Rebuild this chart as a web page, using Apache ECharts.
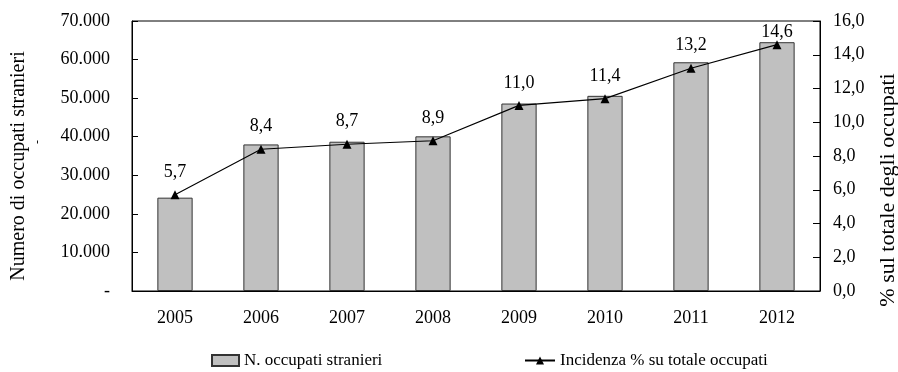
<!DOCTYPE html>
<html><head><meta charset="utf-8">
<script src="https://cdn.jsdelivr.net/npm/echarts@6/dist/echarts.min.js"></script>
<style>html,body{margin:0;padding:0;background:#fff}#c{width:898px;height:372px}</style>
</head><body><div id="c"></div>
<script>
const years = ['2005','2006','2007','2008','2009','2010','2011','2012'];
const occupati = [24200, 38000, 38700, 40100, 48600, 50600, 59300, 64500];
const incidenza = [5.7, 8.4, 8.7, 8.9, 11.0, 11.4, 13.2, 14.6];
const leftTicks = {min: 0, max: 70000, interval: 10000};
const rightTicks = {min: 0, max: 16, interval: 2};
const barName = 'N. occupati stranieri';
const lineName = 'Incidenza % su totale occupati';
const leftTitle = 'Numero di occupati stranieri';
const rightTitle = '% sul totale degli occupati';

const FONT = '"Liberation Serif", "Times New Roman", serif';
const FS = 18;
const chart = echarts.init(document.getElementById('c'), null, {renderer: 'canvas'});
const fmtThousands = v => v === 0 ? '-' : String(v).replace(/\B(?=(\d{3})+(?!\d))/g, '.');
const fmtDec = v => v.toFixed(1).replace('.', ',');

const lineData = incidenza.map((v, i) => i === incidenza.length - 1
  ? {value: v, label: {distance: -1}} : v);

chart.setOption({
  animation: false,
  backgroundColor: '#fff',
  textStyle: {fontFamily: FONT, color: '#000'},
  grid: {left: 132, right: 78, top: 21, bottom: 81, show: true, borderColor: '#000', borderWidth: 1},
  legend: [
    {data: [{name: barName, icon: 'rect'}], left: 206, top: 347, itemWidth: 27, itemHeight: 11, itemGap: 4,
     textStyle: {fontFamily: FONT, fontSize: 17, color: '#000'}},
    {data: [lineName], left: 519, top: 347, itemWidth: 30, itemHeight: 10, itemGap: 4,
     textStyle: {fontFamily: FONT, fontSize: 17, color: '#000'}}
  ],
  xAxis: {
    type: 'category', data: years,
    axisLine: {lineStyle: {color: '#000'}},
    axisTick: {show: false},
    axisLabel: {fontFamily: FONT, fontSize: FS, color: '#000', margin: 18}
  },
  yAxis: [
    {type: 'value', min: leftTicks.min, max: leftTicks.max, interval: leftTicks.interval,
     axisLine: {show: true, lineStyle: {color: '#000'}},
     axisTick: {show: true, inside: true, length: 6, lineStyle: {color: '#000'}},
     splitLine: {show: false},
     axisLabel: {fontFamily: FONT, fontSize: FS, color: '#000', margin: 22, formatter: fmtThousands}},
    {type: 'value', min: rightTicks.min, max: rightTicks.max, interval: rightTicks.interval,
     axisLine: {show: true, lineStyle: {color: '#000'}},
     axisTick: {show: true, inside: true, length: 7, lineStyle: {color: '#000'}},
     splitLine: {show: false},
     axisLabel: {fontFamily: FONT, fontSize: FS, color: '#000', margin: 13, formatter: fmtDec}}
  ],
  series: [
    {name: barName, type: 'bar', data: occupati, yAxisIndex: 0, barWidth: '41%',
     itemStyle: {color: '#C0C0C0', borderColor: '#333', borderWidth: 1}},
    {name: lineName, type: 'line', data: lineData, yAxisIndex: 1,
     symbol: 'triangle', symbolSize: 9,
     lineStyle: {color: '#000', width: 1.1},
     itemStyle: {color: '#000'},
     label: {show: true, position: 'top', distance: 9, fontFamily: FONT, fontSize: FS, color: '#000', formatter: p => fmtDec(p.value)}}
  ],
  graphic: [
    {type: 'text', x: 19, y: 166, rotation: Math.PI/2,
     style: {text: leftTitle, font: '20px ' + FONT, fill: '#000', align: 'center', verticalAlign: 'middle'}},
    {type: 'text', x: 888, y: 190, rotation: Math.PI/2,
     style: {text: rightTitle, font: '22px ' + FONT, fill: '#000', align: 'center', verticalAlign: 'middle'}},
    {type: 'text', x: 38, y: 142, rotation: Math.PI/2,
     style: {text: '-', font: '12px ' + FONT, fill: '#000', align: 'center', verticalAlign: 'middle'}}
  ]
});
</script></body></html>
